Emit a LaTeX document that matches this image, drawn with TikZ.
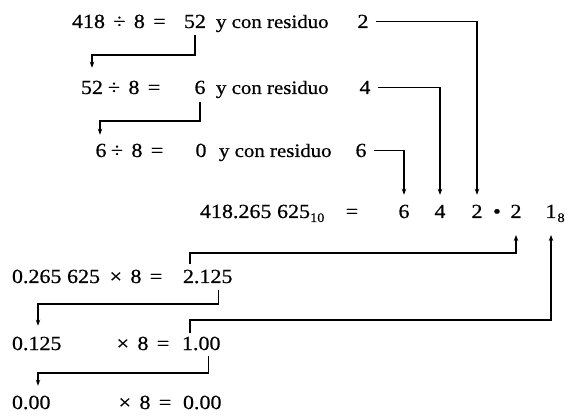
\documentclass[tikz,border=0pt]{standalone}
\usepackage{fontspec}
\setmainfont{Liberation Serif}[FakeStretch=1.1,FakeBold=0.6]
\usetikzlibrary{arrows.meta,calc}
\newcommand{\gp}{\hspace{0.42em}}
\newcommand{\ngp}{\hspace{0.28em}}
\begin{document}
\begin{tikzpicture}[x=1pt,y=-1pt,
  every node/.style={inner sep=0pt,outer sep=0pt,font=\fontsize{20}{24}\selectfont},
  lw/.style={anchor=base west},
  lc/.style={anchor=base},
  wordtext/.style={anchor=base west,font=\fontsize{19}{23}\selectfont},
  conn/.style={line width=1.1pt},
  arr/.style={conn,-{Stealth[length=6pt,width=4.5pt]}}]
\fill[white] (0,0) rectangle (567,419);
\useasboundingbox (0,0) rectangle (567,419);

% division rows
\node[lw] (e1) at (72,28) {418\gp÷\gp8\gp=};
\node[lc] (q1) at (195,28) {52};
\node[wordtext] (t1) at (216,28) {y con residuo};
\node[lc] (r1) at (363,28) {2};

\node[lc] (a2) at (92,94) {52};
\node[lw] (e2) at (108,94) {÷\gp8\gp=};
\node[lc] (q2) at (200,94) {6};
\node[wordtext] (t2) at (216,94) {y con residuo};
\node[lc] (r2) at (365,94) {4};

\node[lc] (a3) at (101,157) {6};
\node[lw] (e3) at (111,157) {÷\gp8\gp=};
\node[lc] (q3) at (201,157) {0};
\node[wordtext] (t3) at (219,157) {y con residuo};
\node[lc] (r3) at (361,157) {6};

% result row
\node[lw] (num) at (200,218) {418.265\ngp625\raisebox{-4pt}{\fontsize{13}{15}\selectfont 10}};
\node[lc] (eq) at (352,218) {=};
\node[lc] (d1) at (404,218) {6};
\node[lc] (d2) at (440,218) {4};
\node[lc] (d3) at (477,218) {2};
\node[lc] (pt) at (497,218) {•};
\node[lc] (f1) at (516,218) {2};
\node[lc] (g1) at (551,218) {1};
\node[anchor=base west] (g8) at ($(g1.base east)+(1,4)$) {\fontsize{13}{15}\selectfont 8};

% multiplication rows
\node[lw] (n5) at (12,283) {0.265\ngp625};
\node[lc] (m5) at (136,283) {×\gp8\gp=};
\node[lw] (p5) at (183,283) {2};
\node[anchor=base west] (frac5) at (p5.base east) {.125};

\node[lw] (n6) at (12,350) {0.125};
\node[lc] (m6) at (143,350) {×\gp8\gp=};
\node[lw] (p6) at (182,350) {1};
\node[anchor=base west] (frac6) at (p6.base east) {.00};

\node[lw] (n7) at (12,409) {0.00};
\node[lc] (m7) at (145,409) {×\gp8\gp=};
\node[lw] (p7) at (183,409) {0.00};

% turning points
\coordinate (k1) at (92,55);
\coordinate (k2) at (100,121);
\coordinate (k6) at (190,253);
\coordinate (k7) at (38,304);
\coordinate (k8) at (190,320);
\coordinate (k9) at (38,373);
\coordinate (s7) at ($(frac5.south)+(5,0)$);
\coordinate (s9) at ($(frac6.south)+(2,0)$);

% connectors
\draw[arr,shorten <=7pt,shorten >=13pt] (q1.south) -- (q1.south |- k1) -| (a2.north);
\draw[arr,shorten <=8pt,shorten >=9pt] (q2.south) -- (q2.south |- k2) -- (k2) -- (k2 |- a3.north);
\draw[arr,shorten <=7pt,shorten >=10pt] (r1.east) -| (d3.north);
\draw[arr,shorten <=7pt,shorten >=10pt] (r2.east) -| (d2.north);
\draw[arr,shorten <=7pt,shorten >=10pt] (r3.east) -| (d1.north);
\draw[arr,shorten <=6pt,shorten >=17pt] (p5.north -| k6) -- (k6) -| (f1.south);
\draw[arr,shorten <=4pt,shorten >=17pt] (p6.north -| k8) -- (k8) -| (g1.south);
\draw[arr,shorten <=7pt,shorten >=11pt] (s7) -- (s7 |- k7) -- (k7) -- (k7 |- n6.north);
\draw[arr,shorten <=6pt,shorten >=10pt] (s9) -- (s9 |- k9) -- (k9) -- (k9 |- n7.north);
\end{tikzpicture}
\end{document}
